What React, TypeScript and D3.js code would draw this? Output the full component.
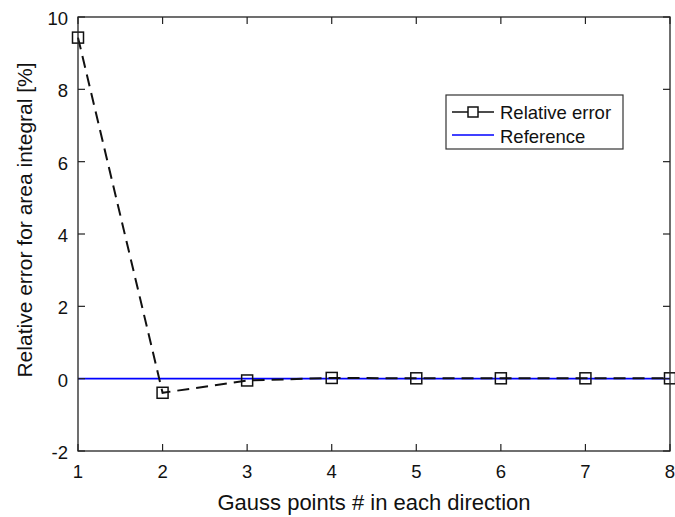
import React, { useEffect, useRef } from 'react';
import * as d3 from 'd3';

// Data
const gaussPoints = [1, 2, 3, 4, 5, 6, 7, 8];
const relativeError = [9.43, -0.39, -0.05, 0.02, 0.01, 0.01, 0.01, 0.01];
const referenceValue = [0, 0];
const yTicks = [-2, 0, 2, 4, 6, 8, 10];
const xTicks = [1, 2, 3, 4, 5, 6, 7, 8];
const legendLabels = ['Relative error', 'Reference'];

const App = () => {
  const ref = useRef<SVGSVGElement | null>(null);

  useEffect(() => {
    const svg = d3.select(ref.current);
    svg.selectAll('*').remove();

    const width = 675;
    const height = 517;
    const margin = { top: 17, right: 5, bottom: 66, left: 78 };
    const font = 'Liberation Sans, Arial, sans-serif';

    const x = d3.scaleLinear().domain([1, 8]).range([margin.left, width - margin.right]);
    const y = d3.scaleLinear().domain([-2, 10]).range([height - margin.bottom, margin.top]);

    svg.append('rect').attr('width', width).attr('height', height).attr('fill', 'white');

    // Reference line
    svg.append('line')
      .attr('x1', x(1)).attr('x2', x(8))
      .attr('y1', y(referenceValue[0])).attr('y2', y(referenceValue[1]))
      .attr('stroke', '#0000ff')
      .attr('stroke-width', 1.8);

    // Relative error line
    const line = d3.line<number>()
      .x((d, i) => x(gaussPoints[i]))
      .y(d => y(d));

    svg.append('path')
      .datum(relativeError)
      .attr('fill', 'none')
      .attr('stroke', '#111')
      .attr('stroke-width', 2)
      .attr('stroke-dasharray', '12,7')
      .attr('d', line);

    // Square markers
    const ms = 11;
    svg.selectAll('.marker')
      .data(relativeError)
      .enter()
      .append('rect')
      .attr('class', 'marker')
      .attr('x', (d, i) => x(gaussPoints[i]) - ms / 2)
      .attr('y', d => y(d) - ms / 2)
      .attr('width', ms)
      .attr('height', ms)
      .attr('fill', 'none')
      .attr('stroke', '#111')
      .attr('stroke-width', 1.5);

    // Box
    svg.append('rect')
      .attr('x', x(1)).attr('y', y(10))
      .attr('width', x(8) - x(1)).attr('height', y(-2) - y(10))
      .attr('fill', 'none')
      .attr('stroke', '#222')
      .attr('stroke-width', 1.3);

    const tickLen = 7;
    const ticks = svg.append('g').attr('stroke', '#222').attr('stroke-width', 1.2);
    xTicks.forEach(t => {
      ticks.append('line').attr('x1', x(t)).attr('x2', x(t)).attr('y1', y(-2)).attr('y2', y(-2) - tickLen);
      ticks.append('line').attr('x1', x(t)).attr('x2', x(t)).attr('y1', y(10)).attr('y2', y(10) + tickLen);
    });
    yTicks.forEach(t => {
      ticks.append('line').attr('x1', x(1)).attr('x2', x(1) + tickLen).attr('y1', y(t)).attr('y2', y(t));
      ticks.append('line').attr('x1', x(8)).attr('x2', x(8) - tickLen).attr('y1', y(t)).attr('y2', y(t));
    });

    // Tick labels
    svg.selectAll('.xlab')
      .data(xTicks)
      .enter()
      .append('text')
      .attr('x', d => x(d))
      .attr('y', y(-2) + 27)
      .attr('text-anchor', 'middle')
      .style('font-family', font)
      .style('font-size', '18.5px')
      .attr('fill', '#111')
      .text(d => d);

    svg.selectAll('.ylab')
      .data(yTicks)
      .enter()
      .append('text')
      .attr('x', x(1) - 10)
      .attr('y', d => y(d) + 8)
      .attr('text-anchor', 'end')
      .style('font-family', font)
      .style('font-size', '18.5px')
      .attr('fill', '#111')
      .text(d => d);

    // Axis titles
    svg.append('text')
      .attr('x', 374)
      .attr('y', 510)
      .attr('text-anchor', 'middle')
      .style('font-family', font)
      .style('font-size', '22px')
      .attr('fill', '#111')
      .text('Gauss points # in each direction');

    svg.append('text')
      .attr('transform', `translate(32, 220) rotate(-90)`)
      .attr('text-anchor', 'middle')
      .style('font-family', font)
      .style('font-size', '21px')
      .attr('fill', '#111')
      .text('Relative error for area integral [%]');

    // Legend
    const lg = svg.append('g').attr('transform', 'translate(446, 95)');
    lg.append('rect')
      .attr('width', 177).attr('height', 54)
      .attr('fill', 'white')
      .attr('stroke', '#333')
      .attr('stroke-width', 1.2);
    lg.append('line')
      .attr('x1', 6).attr('x2', 48).attr('y1', 17).attr('y2', 17)
      .attr('stroke', '#111').attr('stroke-width', 1.5);
    lg.append('rect')
      .attr('x', 22).attr('y', 12).attr('width', 10).attr('height', 10)
      .attr('fill', 'white').attr('stroke', '#111').attr('stroke-width', 1.5);
    lg.append('line')
      .attr('x1', 6).attr('x2', 48).attr('y1', 40).attr('y2', 40)
      .attr('stroke', '#0000ff').attr('stroke-width', 1.5);
    legendLabels.forEach((label, i) => {
      lg.append('text')
        .attr('x', 54)
        .attr('y', 24 + i * 24)
        .style('font-family', font)
        .style('font-size', '18.5px')
        .attr('fill', '#111')
        .text(label);
    });
  }, []);

  return <svg ref={ref} width={675} height={517} style={{ display: 'block', position: 'absolute', left: 0, top: 0 }} />;
};

export default App;
